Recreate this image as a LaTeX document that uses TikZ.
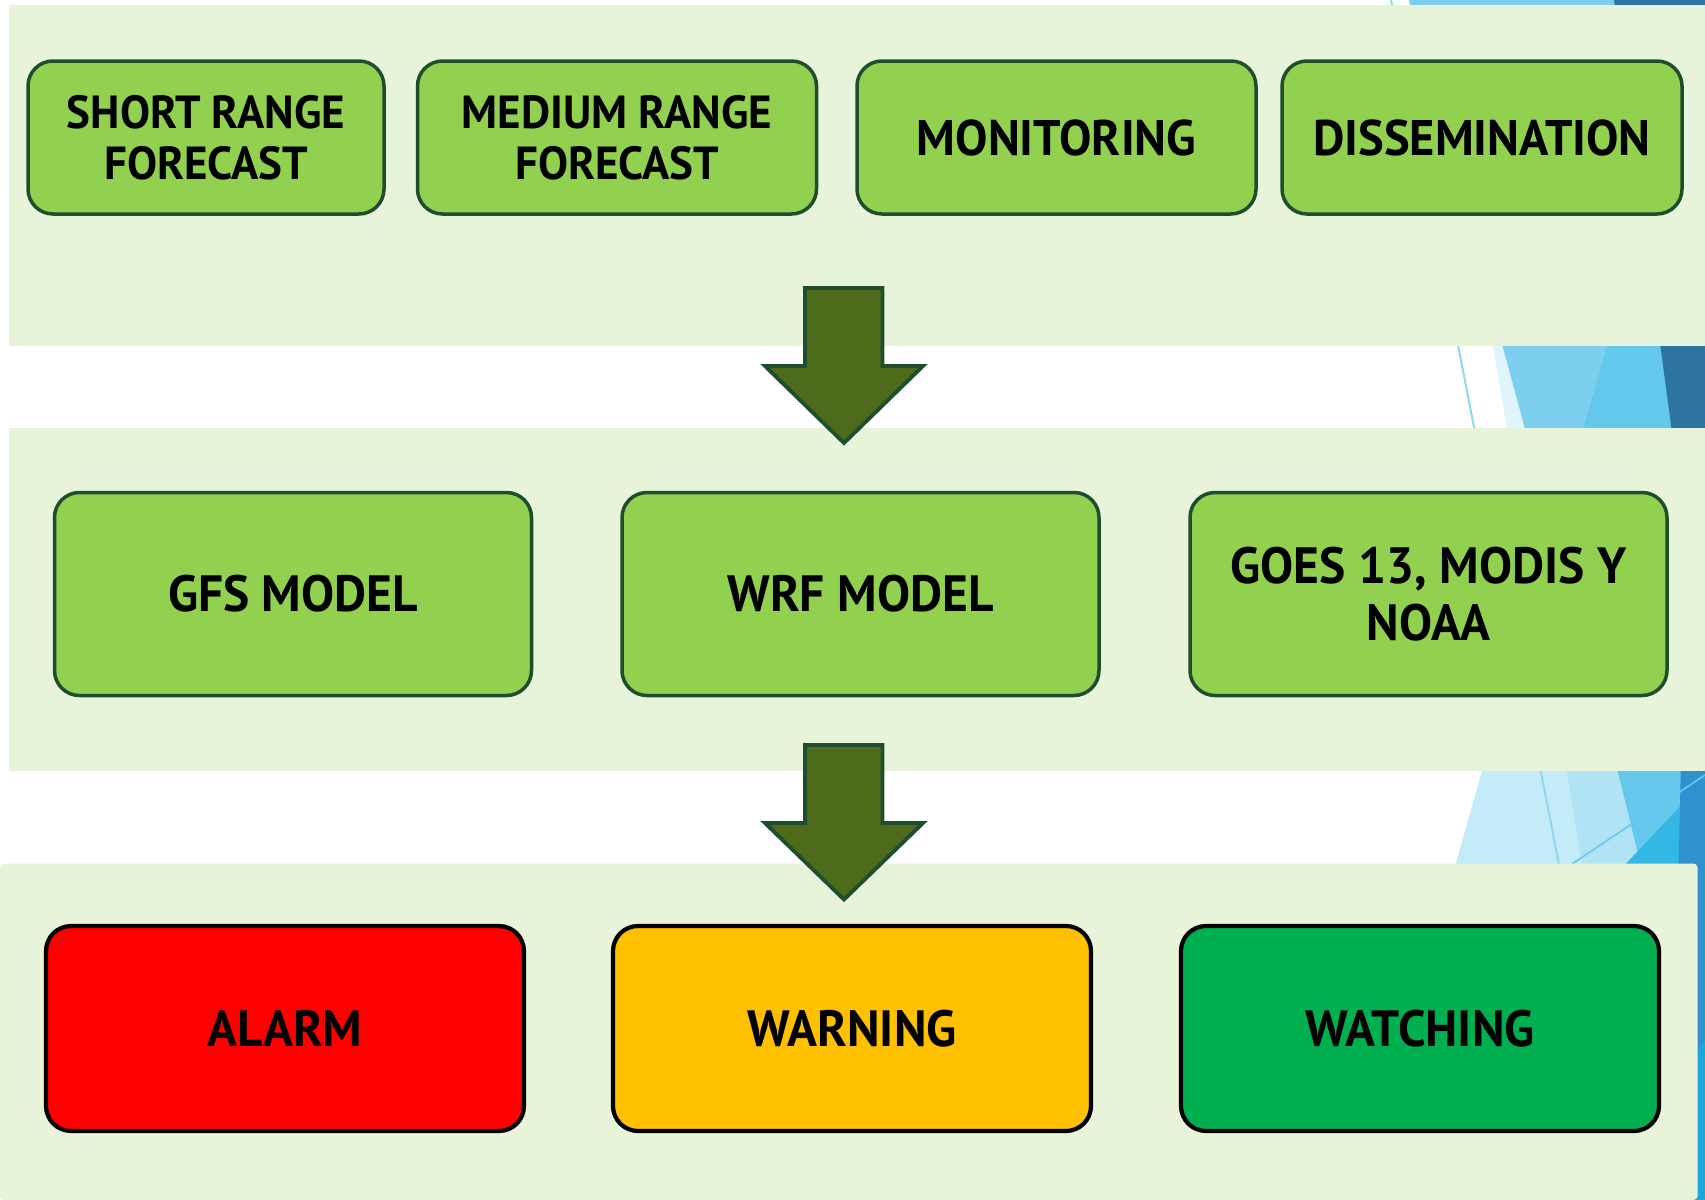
\documentclass[tikz,border=0pt]{standalone}
\usepackage{fontspec}
\setmainfont{PT Sans}
\newfontfamily\cardfont[FakeStretch=0.97]{PT Sans}
\definecolor{bandgreen}{HTML}{E8F4DA}
\definecolor{boxgreen}{HTML}{92D050}
\definecolor{boxborder}{HTML}{1F4E2F}
\definecolor{arrowfill}{HTML}{4E6B1C}
\definecolor{alarmred}{HTML}{FF0000}
\definecolor{warnyellow}{HTML}{FFC000}
\definecolor{watchgreen}{HTML}{00B050}
\definecolor{bluepale}{HTML}{E0F4FB}
\definecolor{blueA}{HTML}{7CCFEE}
\definecolor{blueB}{HTML}{63C8EC}
\definecolor{bluedark}{HTML}{2E74A0}
\definecolor{blueC}{HTML}{C4ECF8}
\definecolor{blueD}{HTML}{B0E4F4}
\definecolor{blueE}{HTML}{66C8EC}
\definecolor{blueF}{HTML}{33B8E6}
\definecolor{blueG}{HTML}{3090D0}
\definecolor{blueH}{HTML}{1EA5DC}
\definecolor{blueline}{HTML}{8FD8F2}
\tikzset{
  card/.style={draw=boxborder, line width=1.75pt, fill=boxgreen, rounded corners=12.5pt,
    align=center, inner sep=0pt},
  topcard/.style={card, minimum height=76.5pt},
  midcard/.style={card, minimum height=101.5pt, minimum width=238.5pt, font=\cardfont\bfseries\fontsize{25.5}{28.3}\selectfont},
  levelcard/.style={card, draw=black, line width=2.1pt, minimum height=102.5pt, minimum width=239pt, font=\cardfont\bfseries\fontsize{25.5}{28.3}\selectfont},
  twoline/.style={font=\cardfont\bfseries\fontsize{23.2}{25.5}\selectfont},
  oneline/.style={font=\cardfont\bfseries\fontsize{25}{30}\selectfont},
  band/.style={fill=bandgreen},
  blockarrow/.style={draw=boxborder, line width=1.9pt, fill=arrowfill, line join=miter}
}
\begin{document}
\begin{tikzpicture}[x=0.5pt,y=-0.5pt]
\useasboundingbox (0,0) rectangle (1705,1200);
\fill[white] (0,0) rectangle (1705,1200);
% background decoration (top right)
\fill[bluepale] (1434,0) -- (1705,0) -- (1705,440) -- (1509,440) -- cycle;
\fill[blueA] (1409,0) -- (1705,0) -- (1705,440) -- (1528,440) -- cycle;
\fill[blueB] (1705,10) -- (1705,440) -- (1580,440) -- cycle;
\fill[bluedark] (1614,0) -- (1705,0) -- (1705,440) -- (1673,440) -- cycle;
% background decoration (lower right)
\fill[blueC] (1485,760) -- (1705,760) -- (1705,870) -- (1454,870) -- cycle;
\fill[blueD] (1565,760) -- (1705,760) -- (1705,870) -- (1583,870) -- cycle;
\fill[blueE] (1615,760) -- (1705,760) -- (1705,870) -- (1642,870) -- cycle;
\fill[blueF] (1705,780) -- (1705,870) -- (1620,870) -- cycle;
\fill[blueG] (1681,760) -- (1705,760) -- (1705,1200) -- (1671,1200) -- cycle;
\fill[blueH] (1705,1040) -- (1705,1200) -- (1600,1200) -- cycle;
\draw[blueline, line width=1pt] (1391,0) -- (1560,870);
\draw[blueE, line width=0.8pt] (1572,864) -- (1705,775);
% bands
\fill[band] (8.7,4.5) rectangle (1705,346);
\fill[band] (8.7,428) rectangle (1705,770.5);
\fill[band, rounded corners=2pt] (0,1200) -- (0,863.5) -- (1697.5,863.5) -- (1697.5,1200) -- cycle;
% top row
\node[topcard, twoline, minimum width=178pt] (srf) at (206,137.5) {SHORT RANGE\\FORECAST};
\node[topcard, twoline, minimum width=199.5pt] (mrf) at (617,137.5) {MEDIUM RANGE\\FORECAST};
\node[topcard, oneline, minimum width=199.5pt] (mon) at (1056.5,137.5) {MONITORING};
\node[topcard, oneline, minimum width=200pt] (dis) at (1482,137.5) {DISSEMINATION};
% middle row
\node[midcard] (gfs) at (293,594) {GFS MODEL};
\node[midcard] (wrf) at (860.5,594) {WRF MODEL};
\node[midcard] (goes) at (1428.5,594) {GOES 13, MODIS Y\\NOAA};
% bottom row
\node[levelcard, fill=alarmred] (alarm) at (285,1028.5) {ALARM};
\node[levelcard, fill=warnyellow] (warning) at (852,1028.5) {WARNING};
\node[levelcard, fill=watchgreen] (watching) at (1420,1028.5) {WATCHING};
% block arrows
\draw[blockarrow] (805,288) -- (882.5,288) -- (882.5,366) -- (923,366) -- (844,443) -- (765,366) -- (805,366) -- cycle;
\draw[blockarrow] (805,745) -- (882.5,745) -- (882.5,823) -- (923,823) -- (844,899.5) -- (765,823) -- (805,823) -- cycle;
\end{tikzpicture}
\end{document}
